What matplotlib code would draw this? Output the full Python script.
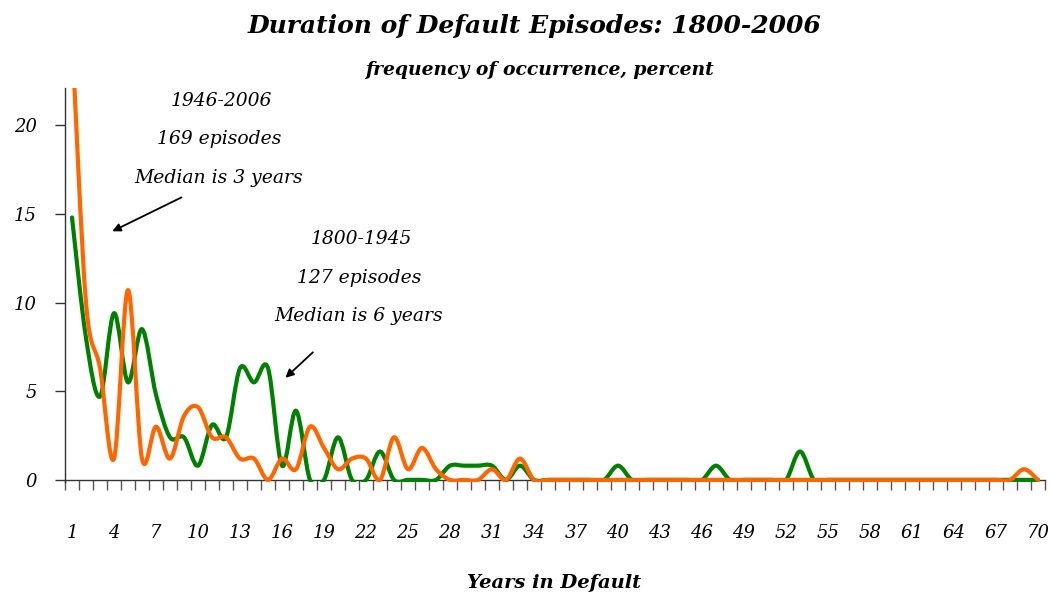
import numpy as np
import matplotlib.pyplot as plt
from matplotlib.path import Path
from matplotlib.patches import PathPatch

# years in default (categories 1..70)
years = list(range(1, 71))
tick_years = list(range(1, 71, 3))

# frequency of occurrence, percent -- 1800-1945 (127 episodes)
early = [14.8, 8.0, 4.7, 9.4, 5.5, 8.5, 4.8, 2.4, 2.4, 0.8,
         3.1, 2.4, 6.3, 5.5, 6.3, 0.8, 3.9, 0.0, 0.0, 2.4,
         0.0, 0.0, 1.6, 0.0, 0.0, 0.0, 0.0, 0.8, 0.8, 0.8,
         0.8, 0.0, 0.8, 0.0, 0.0, 0.0, 0.0, 0.0, 0.0, 0.8,
         0.0, 0.0, 0.0, 0.0, 0.0, 0.0, 0.8, 0.0, 0.0, 0.0,
         0.0, 0.0, 1.6, 0.0, 0.0, 0.0, 0.0, 0.0, 0.0, 0.0,
         0.0, 0.0, 0.0, 0.0, 0.0, 0.0, 0.0, 0.0, 0.0, 0.0]

# frequency of occurrence, percent -- 1946-2006 (169 episodes)
late = [25.0, 10.0, 6.3, 1.2, 10.7, 1.2, 3.0, 1.2, 3.6, 4.1,
        2.4, 2.4, 1.2, 1.2, 0.0, 1.2, 0.6, 3.0, 1.8, 0.6,
        1.2, 1.2, 0.0, 2.4, 0.6, 1.8, 0.6, 0.0, 0.0, 0.0,
        0.6, 0.0, 1.2, 0.0, 0.0, 0.0, 0.0, 0.0, 0.0, 0.0,
        0.0, 0.0, 0.0, 0.0, 0.0, 0.0, 0.0, 0.0, 0.0, 0.0,
        0.0, 0.0, 0.0, 0.0, 0.0, 0.0, 0.0, 0.0, 0.0, 0.0,
        0.0, 0.0, 0.0, 0.0, 0.0, 0.0, 0.0, 0.0, 0.6, 0.0]

GREEN = "#008000"
ORANGE = "#FF6600"
SERIF = ["DejaVu Serif"]


def smooth_path(x, y):
    # excel style smoothed line: cubic bezier through every point
    p = np.column_stack([x, y]).astype(float)
    p = np.vstack([p[0], p, p[-1]])
    verts = [tuple(p[1])]
    codes = [Path.MOVETO]
    for i in range(1, len(p) - 2):
        c1 = p[i] + (p[i + 1] - p[i - 1]) / 6.0
        c2 = p[i + 1] - (p[i + 2] - p[i]) / 6.0
        verts += [tuple(c1), tuple(c2), tuple(p[i + 1])]
        codes += [Path.CURVE4] * 3
    return Path(verts, codes)


fig = plt.figure(figsize=(10.52, 5.95), dpi=100)
ax = fig.add_axes([65 / 1052, 1 - 482 / 595, 980 / 1052, 394 / 595])

ax.add_patch(PathPatch(smooth_path(years, early), fill=False,
                       edgecolor=GREEN, lw=3.0, capstyle="round",
                       joinstyle="round", zorder=3))
ax.add_patch(PathPatch(smooth_path(years, late), fill=False,
                       edgecolor=ORANGE, lw=3.0, capstyle="round",
                       joinstyle="round", zorder=4))

ax.set_xlim(0.5, 70.5)
ax.set_ylim(-0.12, 22.1)
ax.spines["bottom"].set_position(("data", 0))
ax.spines["top"].set_visible(False)
ax.spines["right"].set_visible(False)
for s in ("left", "bottom"):
    ax.spines[s].set_color("#333333")
    ax.spines[s].set_linewidth(1.0)
    ax.spines[s].set_zorder(2)

# category boundaries get the tick marks, labels sit on the categories
ax.set_xticks(np.arange(0.5, 71, 1.0))
ax.set_xticklabels([])
ax.tick_params(axis="x", which="major", direction="out", length=7,
               width=1, color="#555555")
ax.set_xticks(tick_years, minor=True)
ax.set_xticklabels([str(t) for t in tick_years], minor=True)
ax.tick_params(axis="x", which="minor", length=0, pad=32, labelsize=13)

ax.set_yticks([0, 5, 10, 15, 20])
ax.tick_params(axis="y", direction="out", length=7, width=1,
               color="#333333", pad=13, labelsize=13)
for lab in ax.get_xticklabels(minor=True) + ax.get_yticklabels():
    lab.set_family(SERIF)
    lab.set_style("italic")

fig.text(0.508, 0.957, "Duration of Default Episodes: 1800-2006",
         ha="center", va="center", fontsize=18, fontweight="bold",
         style="italic", family=SERIF)
fig.text(0.513, 0.882, "frequency of occurrence, percent",
         ha="center", va="center", fontsize=13.5, fontweight="bold",
         style="italic", family=SERIF)
fig.text(0.527, 0.02, "Years in Default", ha="center", va="center",
         fontsize=14, fontweight="bold", style="italic", family=SERIF)

# annotations
note = dict(ha="center", va="center", fontsize=13.5, style="italic",
            family=SERIF)
ax.text(11.7, 21.35, "1946-2006", **note)
ax.text(11.5, 19.2, "169 episodes", **note)
ax.text(11.5, 17.0, "Median is 3 years", **note)
ax.annotate("", xy=(3.7, 13.95), xytext=(9.0, 16.0),
            arrowprops=dict(arrowstyle="-|>", color="black", lw=1.3,
                            mutation_scale=12))
ax.text(21.7, 13.6, "1800-1945", **note)
ax.text(21.5, 11.4, "127 episodes", **note)
ax.text(21.5, 9.25, "Median is 6 years", **note)
ax.annotate("", xy=(16.1, 5.65), xytext=(18.35, 7.3),
            arrowprops=dict(arrowstyle="-|>", color="black", lw=1.3,
                            mutation_scale=12))

fig.savefig("out.png", dpi=100)
